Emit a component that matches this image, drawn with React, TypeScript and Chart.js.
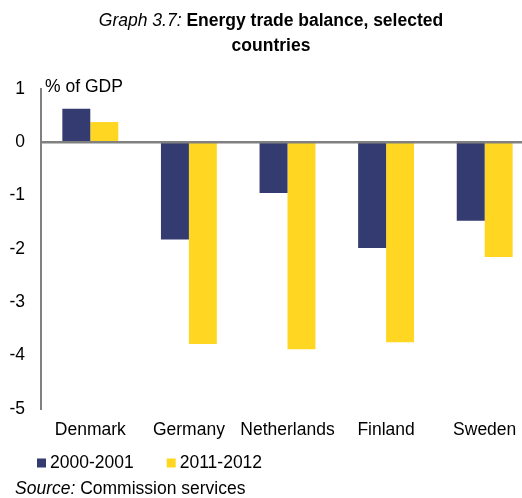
import React, { useEffect, useRef } from "react";
import { Chart, registerables } from "chart.js";
Chart.register(...registerables);

const categories = ["Denmark", "Germany", "Netherlands", "Finland", "Sweden"];
const series2000 = [0.63, -1.82, -0.95, -1.98, -1.47];
const series2011 = [0.38, -3.78, -3.88, -3.75, -2.15];
const seriesLabels = ["2000-2001", "2011-2012"];
const seriesColors = ["#343B70", "#FFD722"];
const yMin = -5;
const yMax = 1;
const yStep = 1;
const yAxisTitle = "% of GDP";

const FONT = "'Liberation Sans', Arial, sans-serif";
const FS = 17.5;
const CANVAS_W = 536;

const decorPlugin = {
  id: "decor",
  afterDatasetsDraw(chart: any) {
    const { ctx, chartArea } = chart;
    const y = chart.scales.y.getPixelForValue(0);
    ctx.save();
    ctx.strokeStyle = "#808080";
    ctx.lineWidth = 2.5;
    ctx.beginPath();
    ctx.moveTo(chartArea.left, y);
    ctx.lineTo(chartArea.right, y);
    ctx.stroke();
    ctx.restore();
  },
  afterDraw(chart: any) {
    const { ctx, chartArea } = chart;
    ctx.save();
    ctx.font = `${FS}px ${FONT}`;
    ctx.fillStyle = "#000";
    ctx.textBaseline = "middle";
    ctx.textAlign = "left";
    ctx.fillText(yAxisTitle, chartArea.left + 4, chartArea.top - 2);
    // legend
    let x = chartArea.left - 4;
    const ly = 463;
    chart.data.datasets.forEach((ds: any) => {
      ctx.fillStyle = ds.backgroundColor;
      ctx.fillRect(x, ly - 4.5, 9, 9);
      ctx.fillStyle = "#000";
      ctx.fillText(ds.label, x + 13, ly);
      x += 13 + ctx.measureText(ds.label).width + 33;
    });
    ctx.restore();
  },
};

export default function App() {
  const ref = useRef<HTMLCanvasElement>(null);
  useEffect(() => {
    if (!ref.current) return;
    Chart.defaults.font.family = FONT;
    const chart = new Chart(ref.current, {
      type: "bar",
      data: {
        labels: categories,
        datasets: [
          { label: seriesLabels[0], data: series2000, backgroundColor: seriesColors[0], borderWidth: 0 },
          { label: seriesLabels[1], data: series2011, backgroundColor: seriesColors[1], borderWidth: 0 },
        ],
      },
      options: {
        animation: false,
        responsive: false,
        maintainAspectRatio: false,
        layout: { padding: { top: 89, left: 10, right: 2, bottom: 49 } },
        plugins: { legend: { display: false }, title: { display: false }, tooltip: { enabled: false } },
        datasets: { bar: { categoryPercentage: 0.567, barPercentage: 1 } },
        scales: {
          x: {
            grid: { display: false },
            border: { display: false },
            ticks: { color: "#000", font: { size: FS }, padding: 3, maxRotation: 0, autoSkip: false },
            afterFit(scale: any) { scale.height = 40; },
          },
          y: {
            min: yMin,
            max: yMax,
            grid: { display: false, drawTicks: false },
            border: { display: true, color: "#808080", width: 2 },
            ticks: { stepSize: yStep, color: "#000", font: { size: FS }, padding: 16 },
            afterFit(scale: any) { scale.width = 31; },
          },
        },
      },
      plugins: [decorPlugin],
    } as any);
    return () => chart.destroy();
  }, []);

  return (
    <div style={{ position: "fixed", left: 0, top: 0, width: 522, height: 498, overflow: "hidden", background: "#fff", fontFamily: FONT, color: "#000" }}>
      <canvas ref={ref} width={CANVAS_W} height={498} style={{ position: "absolute", left: 0, top: 0, width: CANVAS_W, height: 498 }} />
      <div style={{ position: "absolute", left: 20, top: 8, width: 502, textAlign: "center", fontSize: FS, lineHeight: "25px" }}>
        <span style={{ fontStyle: "italic" }}>Graph 3.7:</span> <b>Energy trade balance, selected</b>
        <br />
        <b>countries</b>
      </div>
      <div style={{ position: "absolute", left: 15, top: 478, fontSize: FS, lineHeight: "21px", whiteSpace: "nowrap" }}>
        <span style={{ fontStyle: "italic" }}>Source:</span> Commission services
      </div>
    </div>
  );
}
